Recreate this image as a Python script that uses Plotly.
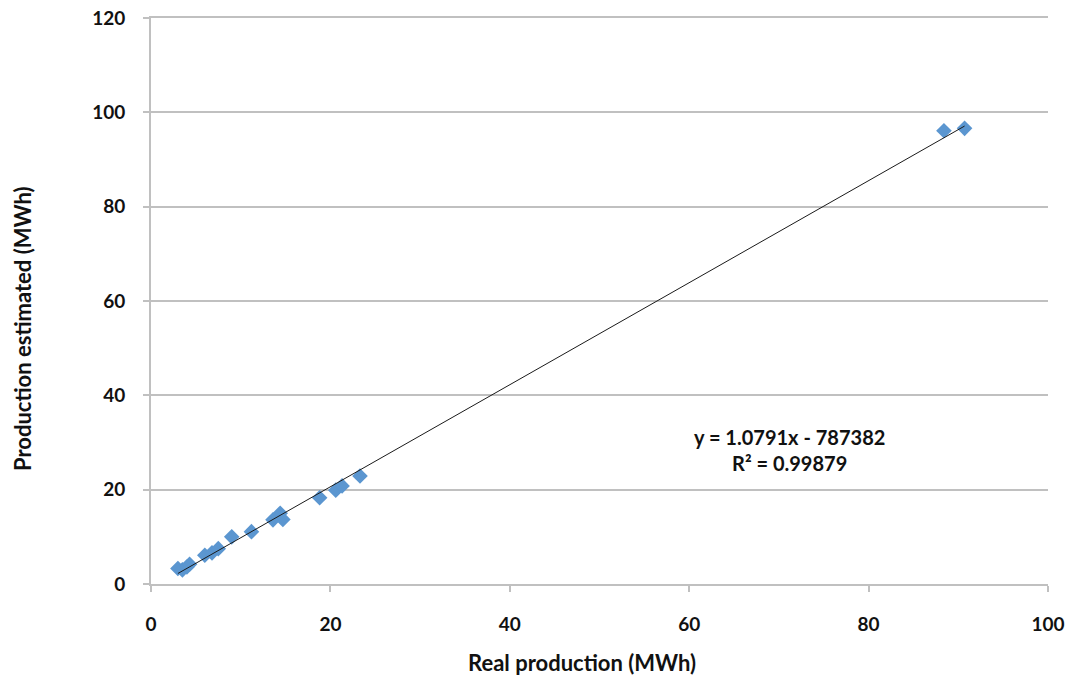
import numpy as np
import plotly.graph_objects as go

# Data (MWh)
real_production = [3.0, 3.5, 4.0, 4.3, 6.0, 6.8, 7.5, 9.0, 11.2, 13.6, 14.4, 14.7,
                   18.8, 20.6, 21.3, 23.3, 88.4, 90.7]
estimated_production = [3.3, 3.0, 3.6, 4.2, 6.1, 6.6, 7.5, 10.0, 11.1, 13.6, 15.0, 13.7,
                        18.3, 19.9, 20.8, 22.9, 96.1, 96.6]
x_ticks = [0, 20, 40, 60, 80, 100]
y_ticks = [0, 20, 40, 60, 80, 100, 120]
x_title = "<b>Real production (MWh)</b>"
y_title = "<b>Production estimated (MWh)</b>"
equation_text = "<b>y = 1.0791x - 787382<br>R² = 0.99879</b>"

# Linear trendline fitted to the data
slope, intercept = np.polyfit(real_production, estimated_production, 1)
trend_x = [min(real_production), max(real_production)]
trend_y = [slope * v + intercept for v in trend_x]

font_family = "Lato, 'Open Sans', sans-serif"
grid_col = "#C0C0C0"

fig = go.Figure()
fig.add_trace(go.Scatter(
    x=real_production, y=estimated_production, mode="markers",
    marker=dict(symbol="diamond", size=12, color="#5B96D0"),
    showlegend=False, hoverinfo="x+y"))
fig.add_trace(go.Scatter(
    x=trend_x, y=trend_y, mode="lines",
    line=dict(color="#1a1a1a", width=1),
    showlegend=False, hoverinfo="skip"))

fig.add_annotation(x=71.2, y=28.4, xref="x", yref="y", text=equation_text,
                   showarrow=False, align="center",
                   font=dict(family=font_family, size=20, color="#111111"))

# Axis titles (placed as in the reference, slightly off-centre)
fig.add_annotation(x=0.4805, y=0, xref="paper", yref="paper", yanchor="middle",
                   yshift=-78, text=x_title, showarrow=False,
                   font=dict(family=font_family, size=22, color="#111111"))
fig.add_annotation(x=0, y=0.4505, xref="paper", yref="paper", xanchor="center",
                   xshift=-129, textangle=-90, text=y_title, showarrow=False,
                   font=dict(family=font_family, size=22, color="#111111"))

fig.update_layout(
    width=1075, height=675,
    margin=dict(l=151, r=27, t=18, b=91),
    paper_bgcolor="white", plot_bgcolor="white",
    font=dict(family=font_family, color="#111111"),
    xaxis=dict(
        range=[0, 100], tickvals=x_ticks, showgrid=False, zeroline=False,
        showline=True, mirror=True, linecolor=grid_col, linewidth=2, automargin=False,
        ticks="outside", ticklen=6, tickcolor=grid_col, tickwidth=2,
        ticklabelstandoff=16,
        tickfont=dict(size=19, family=font_family, weight="bold", color="#111111"),
    ),
    yaxis=dict(
        range=[0, 120], tickvals=y_ticks, showgrid=True, gridcolor=grid_col, gridwidth=2,
        zeroline=False, showline=True, linecolor=grid_col, linewidth=2, automargin=False,
        ticks="outside", ticklen=6, tickcolor=grid_col, tickwidth=2,
        ticklabelstandoff=14,
        tickfont=dict(size=19, family=font_family, weight="bold", color="#111111"),
    ),
)

fig.write_html("out.html", config={"displayModeBar": False})

# Remove the browser's default body margin so the figure sits at the page origin
with open("out.html", encoding="utf-8") as f:
    html = f.read()
html = html.replace("<body>", '<body style="margin:0">', 1)
with open("out.html", "w", encoding="utf-8") as f:
    f.write(html)
